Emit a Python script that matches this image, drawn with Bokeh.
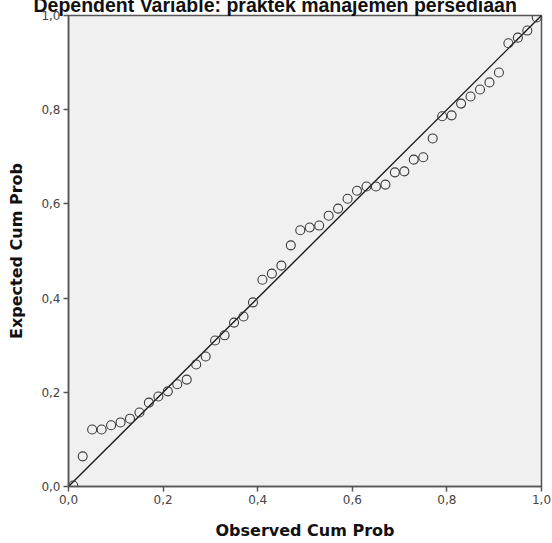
from bokeh.plotting import figure
from bokeh.models import Range1d, FixedTicker, CustomJSTickFormatter
from bokeh.embed import file_html
from bokeh.resources import INLINE

# Observed vs expected cumulative probabilities
observed = [0.01, 0.03, 0.05, 0.07, 0.09, 0.11, 0.13, 0.15, 0.17, 0.19,
            0.21, 0.23, 0.25, 0.27, 0.29, 0.31, 0.33, 0.35, 0.37, 0.39,
            0.41, 0.43, 0.45, 0.47, 0.49, 0.51, 0.53, 0.55, 0.57, 0.59,
            0.61, 0.63, 0.65, 0.67, 0.69, 0.71, 0.73, 0.75, 0.77, 0.79,
            0.81, 0.83, 0.85, 0.87, 0.89, 0.91, 0.93, 0.95, 0.97, 0.99]
expected = [0.002, 0.064, 0.121, 0.121, 0.130, 0.136, 0.144, 0.157, 0.178, 0.191,
            0.202, 0.217, 0.227, 0.259, 0.276, 0.310, 0.321, 0.348, 0.361, 0.391,
            0.439, 0.452, 0.469, 0.512, 0.544, 0.550, 0.554, 0.575, 0.590, 0.611,
            0.628, 0.637, 0.637, 0.641, 0.667, 0.669, 0.694, 0.699, 0.739, 0.786,
            0.788, 0.813, 0.828, 0.843, 0.858, 0.879, 0.941, 0.953, 0.968, 0.996]
reference_line = [0.0, 1.0]
ticks = [0.0, 0.2, 0.4, 0.6, 0.8, 1.0]
tick_labels = ["0,0", "0,2", "0,4", "0,6", "0,8", "1,0"]
title_text = "Dependent Variable: praktek manajemen persediaan"
x_label = "Observed Cum Prob"
y_label = "Expected Cum Prob"

p = figure(width=552, height=573, output_backend="svg", toolbar_location=None,
           x_range=Range1d(0, 1), y_range=Range1d(0, 1),
           min_border_left=68, min_border_right=11, min_border_top=45,
           min_border_bottom=57, title=title_text)
# the reference's title is cut off by the top edge of the picture
p.styles = {"margin-top": "-30px"}

p.title.text_font = "Liberation Sans"
p.title.text_font_size = "19.5px"
p.title.text_font_style = "bold"
p.title.text_color = "#111111"
p.title.align = "left"
p.title.offset = -35
p.title.standoff = 0
p.title.vertical_align = "bottom"

p.background_fill_color = "#F0F0F0"
p.border_fill_color = "white"
p.outline_line_color = "#555555"
p.outline_line_width = 1.5
p.xgrid.visible = False
p.ygrid.visible = False

fmt = CustomJSTickFormatter(args=dict(tick_vals=ticks, tick_text=tick_labels), code="""
const i = tick_vals.findIndex(t => Math.abs(t - tick) < 1e-9);
return i >= 0 ? tick_text[i] : '';
""")

for ax in (p.xaxis[0], p.yaxis[0]):
    ax.ticker = FixedTicker(ticks=ticks)
    ax.formatter = fmt
    ax.axis_line_color = "#555555"
    ax.axis_line_width = 1.5
    ax.major_tick_line_color = "#555555"
    ax.major_tick_line_width = 1.5
    ax.major_tick_in = 0
    ax.major_tick_out = 5
    ax.minor_tick_line_color = None
    ax.major_label_text_font = "DejaVu Sans"
    ax.major_label_text_font_size = "12px"
    ax.major_label_text_color = "#444444"
    ax.major_label_standoff = 3
    ax.axis_label_text_font = "DejaVu Sans"
    ax.axis_label_text_font_size = "16px"
    ax.axis_label_text_font_style = "bold"
    ax.axis_label_text_color = "#111111"

p.xaxis.axis_label = x_label
p.yaxis.axis_label = y_label
p.xaxis.axis_label_standoff = 14
p.yaxis.axis_label_standoff = 12
p.yaxis.major_label_orientation = "horizontal"

p.line(reference_line, reference_line, line_color="#1a1a1a", line_width=1.4)
p.scatter(observed, expected, marker="circle", size=9, fill_color=None,
          line_color="#3a3a3a", line_width=1.1)

open("out.html", "w").write(file_html(p, INLINE))
